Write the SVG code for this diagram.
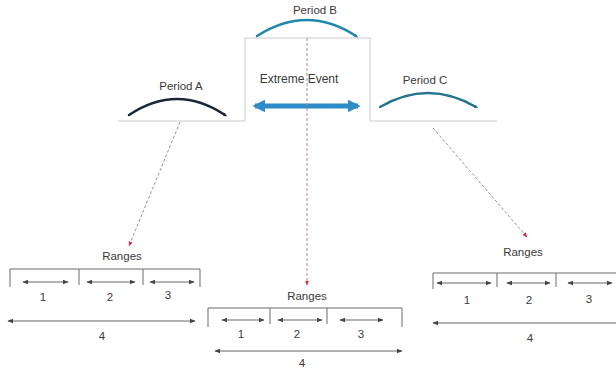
<svg xmlns="http://www.w3.org/2000/svg" width="616" height="372" viewBox="0 0 616 372">
  <style>
    text { font-family: "Liberation Sans", "DejaVu Sans", sans-serif; font-size: 11.5px; fill: #3a3a3a; text-anchor: middle; }
    .big { font-size: 12px; }
    .frame { fill: none; stroke: #cacaca; stroke-width: 1; }
    .bracket { fill: none; stroke: #6b6b6b; stroke-width: 1; }
    .span { stroke: #555; stroke-width: 0.9; marker-start: url(#tipS); marker-end: url(#tipE); }
    .link { fill: none; stroke: #a88a90; stroke-width: 1; stroke-dasharray: 3 2; marker-end: url(#redTip); }
    .arc { fill: none; stroke-width: 2.4; stroke-linecap: round; }
  </style>
  <defs>
    <marker id="tipE" viewBox="0 0 10 10" refX="9" refY="5" markerWidth="6" markerHeight="6" markerUnits="userSpaceOnUse" orient="auto">
      <path d="M0,1 L10,5 L0,9 Z" fill="#444"/>
    </marker>
    <marker id="tipS" viewBox="0 0 10 10" refX="1" refY="5" markerWidth="6" markerHeight="6" markerUnits="userSpaceOnUse" orient="auto">
      <path d="M10,1 L0,5 L10,9 Z" fill="#444"/>
    </marker>
    <marker id="redTip" viewBox="0 0 10 10" refX="9" refY="5" markerWidth="5" markerHeight="5" markerUnits="userSpaceOnUse" orient="auto">
      <path d="M0,1 L10,5 L0,9 Z" fill="#d0304a"/>
    </marker>
    <marker id="blueE" viewBox="0 0 10 10" refX="8" refY="5" markerWidth="2.6" markerHeight="2.6" orient="auto">
      <path d="M0,0 L10,5 L0,10 Z" fill="#2e8bc8"/>
    </marker>
    <marker id="blueS" viewBox="0 0 10 10" refX="2" refY="5" markerWidth="2.6" markerHeight="2.6" orient="auto">
      <path d="M10,0 L0,5 L10,10 Z" fill="#2e8bc8"/>
    </marker>
    <!-- blunt end caps for the period arcs -->
    <marker id="arcTipA" viewBox="0 0 10 10" refX="4" refY="5" markerWidth="1.8" markerHeight="1.8" orient="auto">
      <path d="M0,1 L10,5 L0,9 Z" fill="#1b2638"/>
    </marker>
    <marker id="arcTipB" viewBox="0 0 10 10" refX="4" refY="5" markerWidth="1.8" markerHeight="1.8" orient="auto">
      <path d="M0,1 L10,5 L0,9 Z" fill="#1f86ad"/>
    </marker>
    <marker id="arcTipC" viewBox="0 0 10 10" refX="4" refY="5" markerWidth="1.8" markerHeight="1.8" orient="auto">
      <path d="M0,1 L10,5 L0,9 Z" fill="#23738e"/>
    </marker>
  </defs>

  <!-- stepped timeline: baseline raised during the extreme event -->
  <polyline class="frame" points="118,121 245,121 245,38 370,38 370,121 497,121"/>

  <g id="period-a">
    <path class="arc" d="M129,115 Q177,83 225,115" stroke="#1b2638" marker-end="url(#arcTipA)"/>
    <text x="181" y="90">Period A</text>
  </g>

  <g id="period-b">
    <path class="arc" d="M257,36 Q307,4 356,36" stroke="#1f86ad" marker-end="url(#arcTipB)"/>
    <text x="315" y="14">Period B</text>
  </g>

  <g id="extreme-event">
    <text class="big" x="299" y="83">Extreme Event</text>
    <line x1="255" y1="106" x2="358" y2="106" stroke="#2e8bc8" stroke-width="5" marker-start="url(#blueS)" marker-end="url(#blueE)"/>
  </g>

  <g id="period-c">
    <path class="arc" d="M380,107 Q428,79 476,107" stroke="#23738e" marker-end="url(#arcTipC)"/>
    <text x="425" y="84">Period C</text>
  </g>

  <g id="connectors">
    <line class="link" x1="180" y1="122" x2="129" y2="246"/>
    <line class="link" x1="307" y1="38" x2="307" y2="285"/>
    <line class="link" x1="433" y1="128" x2="527" y2="237"/>
  </g>

  <g id="ranges-a">
    <text x="122" y="260">Ranges</text>
    <path class="bracket" d="M10,287 V269 H200 V287 M79,269 V285 M143,269 V285"/>
    <line class="span" x1="23" y1="282" x2="68" y2="282"/>
    <line class="span" x1="87" y1="282" x2="135" y2="282"/>
    <line class="span" x1="150" y1="282" x2="194" y2="282"/>
    <text x="43" y="301">1</text>
    <text x="110" y="301">2</text>
    <text x="168" y="299">3</text>
    <line class="span" x1="8" y1="321" x2="195" y2="321"/>
    <text x="102" y="340">4</text>
  </g>

  <g id="ranges-b">
    <text x="307" y="300">Ranges</text>
    <path class="bracket" d="M208,327 V308 H402 V327 M270,308 V324 M327,308 V324"/>
    <line class="span" x1="222" y1="320" x2="264" y2="320"/>
    <line class="span" x1="278" y1="320" x2="322" y2="320"/>
    <line class="span" x1="340" y1="320" x2="383" y2="320"/>
    <text x="241" y="338">1</text>
    <text x="297" y="338">2</text>
    <text x="361" y="338">3</text>
    <line class="span" x1="215" y1="351" x2="402" y2="351"/>
    <text x="302" y="367">4</text>
  </g>

  <g id="ranges-c">
    <text x="523" y="256">Ranges</text>
    <path class="bracket" d="M433,289 V273 H620 M497,273 V287 M556,273 V287"/>
    <line class="span" x1="437" y1="283" x2="491" y2="283"/>
    <line class="span" x1="507" y1="283" x2="550" y2="283"/>
    <line class="span" x1="568" y1="283" x2="612" y2="283"/>
    <text x="467" y="304">1</text>
    <text x="529" y="304">2</text>
    <text x="589" y="303">3</text>
    <line class="span" x1="433" y1="323" x2="630" y2="323"/>
    <text x="530" y="342">4</text>
  </g>
</svg>
